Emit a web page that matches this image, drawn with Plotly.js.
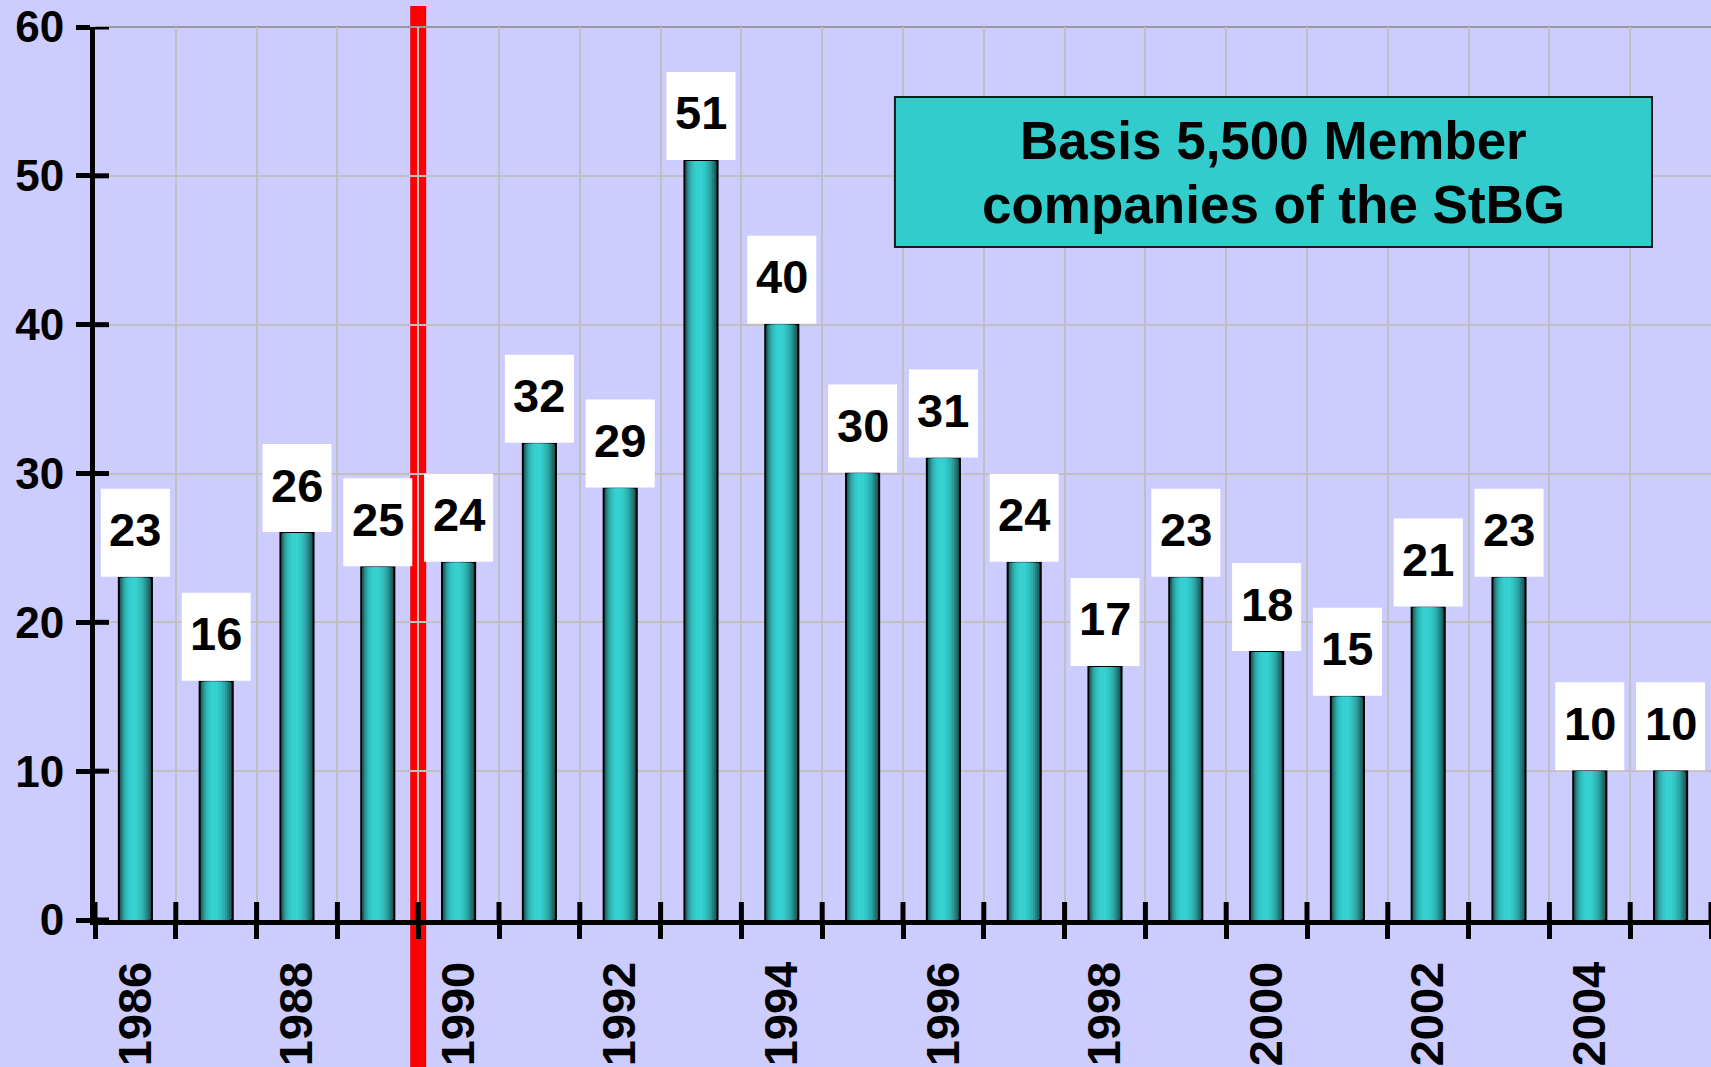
<!DOCTYPE html>
<html>
<head>
<meta charset="utf-8">
<script src="https://cdn.plot.ly/plotly-3.0.1.min.js"></script>
<style>html,body{margin:0;padding:0;background:#ccccff;overflow:hidden}</style>
</head>
<body>
<div id="chart" style="width:1711px;height:1067px"></div>
<script>
// ---- data ----
const years = [1986,1987,1988,1989,1990,1991,1992,1993,1994,1995,1996,1997,1998,1999,2000,2001,2002,2003,2004,2005];
const barValues = [23,16,26,23.7,24,32,29,51,40,30,31,24,17,23,18,15,21,23,10,10];
const labelTexts = ["23","16","26","25","24","32","29","51","40","30","31","24","17","23","18","15","21","23","10","10"];
const labeledYears = [1986,1988,1990,1992,1994,1996,1998,2000,2002,2004];
const yTicks = [0,10,20,30,40,50,60];
const noteLines = ["Basis 5,500 Member", "companies of the StBG"];
const markedYear = 1990; // red line drawn at the start of this year

// ---- styling ----
const FONT = "Liberation Sans, Arial, Helvetica, sans-serif";
const W = 1711, H = 1067;
const M = {l: 95, r: 0, t: 27, b: 147, pad: 0};
const plotW = W - M.l - M.r, plotH = H - M.t - M.b;
const X_TICK = 18, Y_TICK = 14;   // tick half-lengths in px
const barLayers = [
  {w: 0.41, c: "#1a5252", shift: 0},
  {w: 0.37, c: "#1f6a6a", shift: -0.004},
  {w: 0.33, c: "#248282", shift: -0.008},
  {w: 0.29, c: "#2a9999", shift: -0.012},
  {w: 0.25, c: "#2eadad", shift: -0.016},
  {w: 0.20, c: "#31bcbc", shift: -0.02},
  {w: 0.15, c: "#33c8c8", shift: -0.022},
  {w: 0.09, c: "#36d0d0", shift: -0.024}
];

const boundaries = years.map(y => y - 0.5).concat([years[years.length-1] + 0.5]);
const xRange = [boundaries[0], boundaries[boundaries.length-1]];
const yRange = [yTicks[0], yTicks[yTicks.length-1]];

const traces = barLayers.map((L, i) => ({
  type: "bar",
  x: years,
  y: barValues,
  width: L.w,
  offset: -L.w/2 + L.shift,
  marker: {color: L.c, opacity: 1, line: {width: i === 0 ? 2 : 0, color: "#000"}},
  hoverinfo: "skip",
  xaxis: "x", yaxis: "y"
}));
// empty trace so the boundary-tick/grid axis renders
traces.push({type:"scatter", mode:"markers", x:[null], y:[null], xaxis:"x2", yaxis:"y", hoverinfo:"skip", showlegend:false});

// inner halves of the crossing axis ticks, as line segments
const yUnitsPerPx = (yRange[1] - yRange[0]) / plotH;
const xUnitsPerPx = (xRange[1] - xRange[0]) / plotW;
const xtX = [], xtY = [];
boundaries.forEach(b => { xtX.push(b, b, null); xtY.push(yRange[0], yRange[0] + X_TICK * yUnitsPerPx, null); });
traces.push({type:"scatter", mode:"lines", x: xtX, y: xtY, line:{color:"#000", width:5},
  hoverinfo:"skip", showlegend:false, xaxis:"x", yaxis:"y"});
const ytX = [], ytY = [];
yTicks.forEach(t => { ytX.push(xRange[0], xRange[0] + Y_TICK * xUnitsPerPx, null); ytY.push(t, t, null); });
traces.push({type:"scatter", mode:"lines", x: ytX, y: ytY, line:{color:"#000", width:5},
  hoverinfo:"skip", showlegend:false, xaxis:"x", yaxis:"y"});

const shapes = [];
// red marker line
shapes.push({
  type: "line", layer: "below", xref: "x", yref: "paper",
  x0: markedYear - 0.5, x1: markedYear - 0.5, y0: -0.2, y1: 1.0235,
  line: {color: "#ff0000", width: 16}
});
// darker top border of the plot area
shapes.push({
  type: "line", layer: "below", xref: "paper", yref: "paper",
  x0: 0, x1: 1, y0: 1, y1: 1, line: {color: "#999999", width: 2}
});
// white label boxes (pixel-sized, anchored at each bar top)
years.forEach((yr, i) => shapes.push({
  type: "rect", layer: "above", xref: "x", yref: "y",
  xsizemode: "pixel", ysizemode: "pixel",
  xanchor: yr, yanchor: barValues[i],
  x0: -34.5, x1: 34.5, y0: 1, y1: 89,
  fillcolor: "#ffffff", line: {width: 0}
}));
// note box
shapes.push({
  type: "rect", layer: "above", xref: "paper", yref: "paper",
  x0: 0.4950, x1: 0.9635, y0: 0.7536, y1: 0.9216,
  fillcolor: "#33cccc", line: {color: "#1a1a1a", width: 2}
});

const annotations = years.map((yr, i) => ({
  x: yr, y: barValues[i], xref: "x", yref: "y",
  text: labelTexts[i],
  showarrow: false,
  xanchor: "center", yanchor: "middle", yshift: 48,
  font: {family: FONT, size: 47, color: "#000", weight: "bold"}
}));
const noteY = [0.8725, 0.8007];
noteLines.forEach((t, k) => annotations.push({
  xref: "paper", yref: "paper", x: 0.7293, y: noteY[k],
  xanchor: "center", yanchor: "middle", showarrow: false,
  text: t,
  font: {family: FONT, size: 53, color: "#000", weight: "bold"}
}));

const layout = {
  width: W, height: H,
  margin: M,
  paper_bgcolor: "#ccccff", plot_bgcolor: "#ccccff",
  showlegend: false, barmode: "overlay",
  font: {family: FONT, color: "#000"},
  xaxis: {
    type: "linear", range: xRange, fixedrange: true,
    tickmode: "array", tickvals: labeledYears, ticktext: labeledYears.map(String),
    ticks: "", tickangle: -90, ticklabelstandoff: 18,
    tickfont: {family: FONT, size: 47, color: "#000", weight: "bold"},
    showgrid: false, zeroline: false,
    showline: true, linecolor: "#000", linewidth: 5
  },
  xaxis2: {
    overlaying: "x", type: "linear", range: xRange, fixedrange: true,
    tickmode: "array", tickvals: boundaries, showticklabels: false,
    ticks: "outside", ticklen: X_TICK, tickwidth: 5, tickcolor: "#000",
    showgrid: true, gridcolor: "#c0c0c0", gridwidth: 2, zeroline: false, showline: false
  },
  yaxis: {
    range: yRange, fixedrange: true,
    tickmode: "array", tickvals: yTicks, ticktext: yTicks.map(String),
    ticks: "outside", ticklen: Y_TICK, tickwidth: 5, tickcolor: "#000",
    tickfont: {family: FONT, size: 44, color: "#000", weight: "bold"},
    ticklabelstandoff: 3,
    showgrid: true, gridcolor: "#c0c0c0", gridwidth: 2, zeroline: false,
    showline: true, linecolor: "#000", linewidth: 5
  },
  shapes: shapes,
  annotations: annotations
};

Plotly.newPlot("chart", traces, layout, {displayModeBar: false, staticPlot: true});
</script>
</body>
</html>
